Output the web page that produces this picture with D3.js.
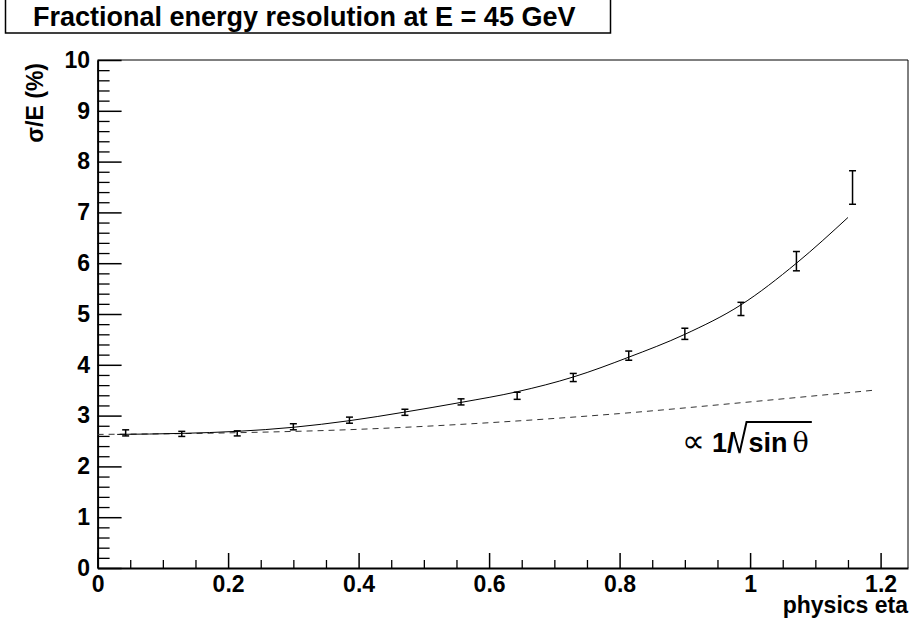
<!DOCTYPE html>
<html>
<head>
<meta charset="utf-8">
<script src="https://cdn.jsdelivr.net/npm/d3@7"></script>
<style>
  body { margin: 0; background: #fff; }
  text { font-family: "Liberation Sans", Arial, sans-serif; }
</style>
</head>
<body>
<div id="chart"></div>
<script>
// size of the picture
var svgWidth = 913;
var svgHeight = 628;

// measured points (eta bin centres, sigma/E in %, half error)
var etaPoints = [0.043, 0.129, 0.214, 0.300, 0.386, 0.471, 0.557, 0.643, 0.729, 0.814, 0.900, 0.986, 1.071, 1.157];
var resPoints = [2.66, 2.64, 2.65, 2.78, 2.91, 3.065, 3.27, 3.39, 3.75, 4.18, 4.61, 5.10, 6.04, 7.49];
var resErrors = [0.06, 0.05, 0.05, 0.06, 0.06, 0.06, 0.06, 0.07, 0.08, 0.09, 0.11, 0.13, 0.19, 0.33];

// fitted curve
var fitEta = [0.03, 0.129, 0.214, 0.300, 0.386, 0.471, 0.557, 0.643, 0.729, 0.814, 0.900, 0.986, 1.071, 1.150];
var fitRes = [2.63, 2.65, 2.69, 2.77, 2.90, 3.07, 3.26, 3.47, 3.76, 4.15, 4.60, 5.18, 6.00, 6.90];

// dashed 1/sqrt(sin theta) curve
var sinEta = [0, 0.2, 0.4, 0.6, 0.8, 1.0, 1.19];
var sinRes = [2.63, 2.66, 2.73, 2.86, 3.04, 3.27, 3.50];

var xMajor = [0, 0.2, 0.4, 0.6, 0.8, 1, 1.2];
var yMajor = [0, 1, 2, 3, 4, 5, 6, 7, 8, 9, 10];

var svg = d3.select("#chart")
  .append("svg")
  .attr("width", svgWidth)
  .attr("height", svgHeight);

// scales
var x = d3.scaleLinear().domain([0, 1.242]).range([97.6, 908]);
var y = d3.scaleLinear().domain([0, 10]).range([568, 60]);

var xMinor = d3.range(0, 1.2401, 0.05).filter(v => xMajor.indexOf(+v.toFixed(2)) < 0);
var yMinor = d3.range(0, 10.001, 0.2).filter(v => Math.abs(v - Math.round(v)) > 0.01);

// frame (top / right)
svg.append("path")
  .attr("d", `M${x(0)},${y(10)}H${x(1.242)}V${y(0)}`)
  .attr("fill", "none")
  .attr("stroke", "#000")
  .attr("stroke-width", 1);

// minor ticks
svg.append("g")
  .attr("transform", `translate(${x(0)},0)`)
  .call(d3.axisLeft(y).tickValues(yMinor).tickSizeInner(-12).tickSizeOuter(0).tickFormat(""))
  .call(g => g.select(".domain").remove())
  .selectAll("line").attr("stroke-width", 1.3);

svg.append("g")
  .attr("transform", `translate(0,${y(0)})`)
  .call(d3.axisBottom(x).tickValues(xMinor).tickSizeInner(-8).tickSizeOuter(0).tickFormat(""))
  .call(g => g.select(".domain").remove())
  .selectAll("line").attr("stroke-width", 1.3);

// major ticks and labels
var yAxis = svg.append("g")
  .attr("transform", `translate(${x(0)},0)`)
  .call(d3.axisLeft(y).tickValues(yMajor).tickSizeInner(-24).tickSizeOuter(0).tickPadding(7.5).tickFormat(d3.format("d")));

var xAxis = svg.append("g")
  .attr("transform", `translate(0,${y(0)})`)
  .call(d3.axisBottom(x).tickValues(xMajor).tickSizeInner(-15).tickSizeOuter(0).tickPadding(7.5).tickFormat(d => d === 0 ? "0" : d3.format("")(d)));

[yAxis, xAxis].forEach(function(a) {
  a.select(".domain").attr("stroke-width", 2);
  a.selectAll("line").attr("stroke-width", 1.5);
  a.selectAll("text")
    .attr("fill", "#000")
    .style("font-size", "23px")
    .style("font-weight", "bold")
    .style("font-family", "Liberation Sans, Arial, sans-serif");
});

// axis titles
svg.append("text")
  .attr("x", 908)
  .attr("y", 613)
  .attr("text-anchor", "end")
  .style("font-size", "23px")
  .style("font-weight", "bold")
  .text("physics eta");

svg.append("text")
  .attr("transform", "translate(43,63) rotate(-90)")
  .attr("text-anchor", "end")
  .style("font-size", "23px")
  .style("font-weight", "bold")
  .text("σ/E (%)");

// dashed reference curve
var line = d3.line().curve(d3.curveMonotoneX);
svg.append("path")
  .attr("d", line(sinEta.map((e, i) => [x(e), y(sinRes[i])])))
  .attr("fill", "none")
  .attr("stroke", "#333")
  .attr("stroke-width", 1)
  .attr("stroke-dasharray", "6,5");

// fitted curve
svg.append("path")
  .attr("d", line(fitEta.map((e, i) => [x(e), y(fitRes[i])])))
  .attr("fill", "none")
  .attr("stroke", "#000")
  .attr("stroke-width", 1);

// error bars
var bars = svg.append("g").selectAll("g")
  .data(etaPoints.map((e, i) => ({eta: e, res: resPoints[i], err: resErrors[i]})))
  .enter().append("g")
  .attr("stroke", "#000")
  .attr("stroke-width", 1.5);

bars.append("line")
  .attr("x1", d => x(d.eta)).attr("x2", d => x(d.eta))
  .attr("y1", d => y(d.res - d.err)).attr("y2", d => y(d.res + d.err));
bars.append("line")
  .attr("x1", d => x(d.eta) - 3.5).attr("x2", d => x(d.eta) + 3.5)
  .attr("y1", d => y(d.res - d.err)).attr("y2", d => y(d.res - d.err));
bars.append("line")
  .attr("x1", d => x(d.eta) - 3.5).attr("x2", d => x(d.eta) + 3.5)
  .attr("y1", d => y(d.res + d.err)).attr("y2", d => y(d.res + d.err));

// label  "∝ 1/√(sin θ)"
var lab = svg.append("g");
var lx = 682, ly = 452;
var t1 = lab.append("text").attr("x", lx).attr("y", ly).style("font-size", "32px").text("∝");
lx = 712;
var t2 = lab.append("text").attr("x", lx).attr("y", ly).style("font-size", "27px").style("font-weight", "bold").text("1/");
lx += t2.node().getComputedTextLength() - 1;
var rx = lx;
lx += 15;
var t3 = lab.append("text").attr("x", lx).attr("y", ly).style("font-size", "27px").style("font-weight", "bold").text("sin");
lx += t3.node().getComputedTextLength() + 5;
var t4 = lab.append("text").attr("x", lx).attr("y", ly).style("font-size", "27px")
  .style("font-family", "DejaVu Serif, Liberation Serif, serif").text("θ");
lx += t4.node().getComputedTextLength();
lab.append("path")
  .attr("d", `M${rx},${ly - 20}L${rx + 6},${ly + 1}L${rx + 13},${ly - 30}H${lx + 3}`)
  .attr("fill", "none")
  .attr("stroke", "#000")
  .attr("stroke-width", 2);

// title box
svg.append("rect")
  .attr("x", 5.5).attr("y", -1)
  .attr("width", 605).attr("height", 34)
  .attr("fill", "#fff")
  .attr("stroke", "#000")
  .attr("stroke-width", 1.5);

svg.append("text")
  .attr("x", 33)
  .attr("y", 26)
  .style("font-size", "27px")
  .style("font-weight", "bold")
  .text("Fractional energy resolution at E = 45 GeV");
</script>
</body>
</html>
